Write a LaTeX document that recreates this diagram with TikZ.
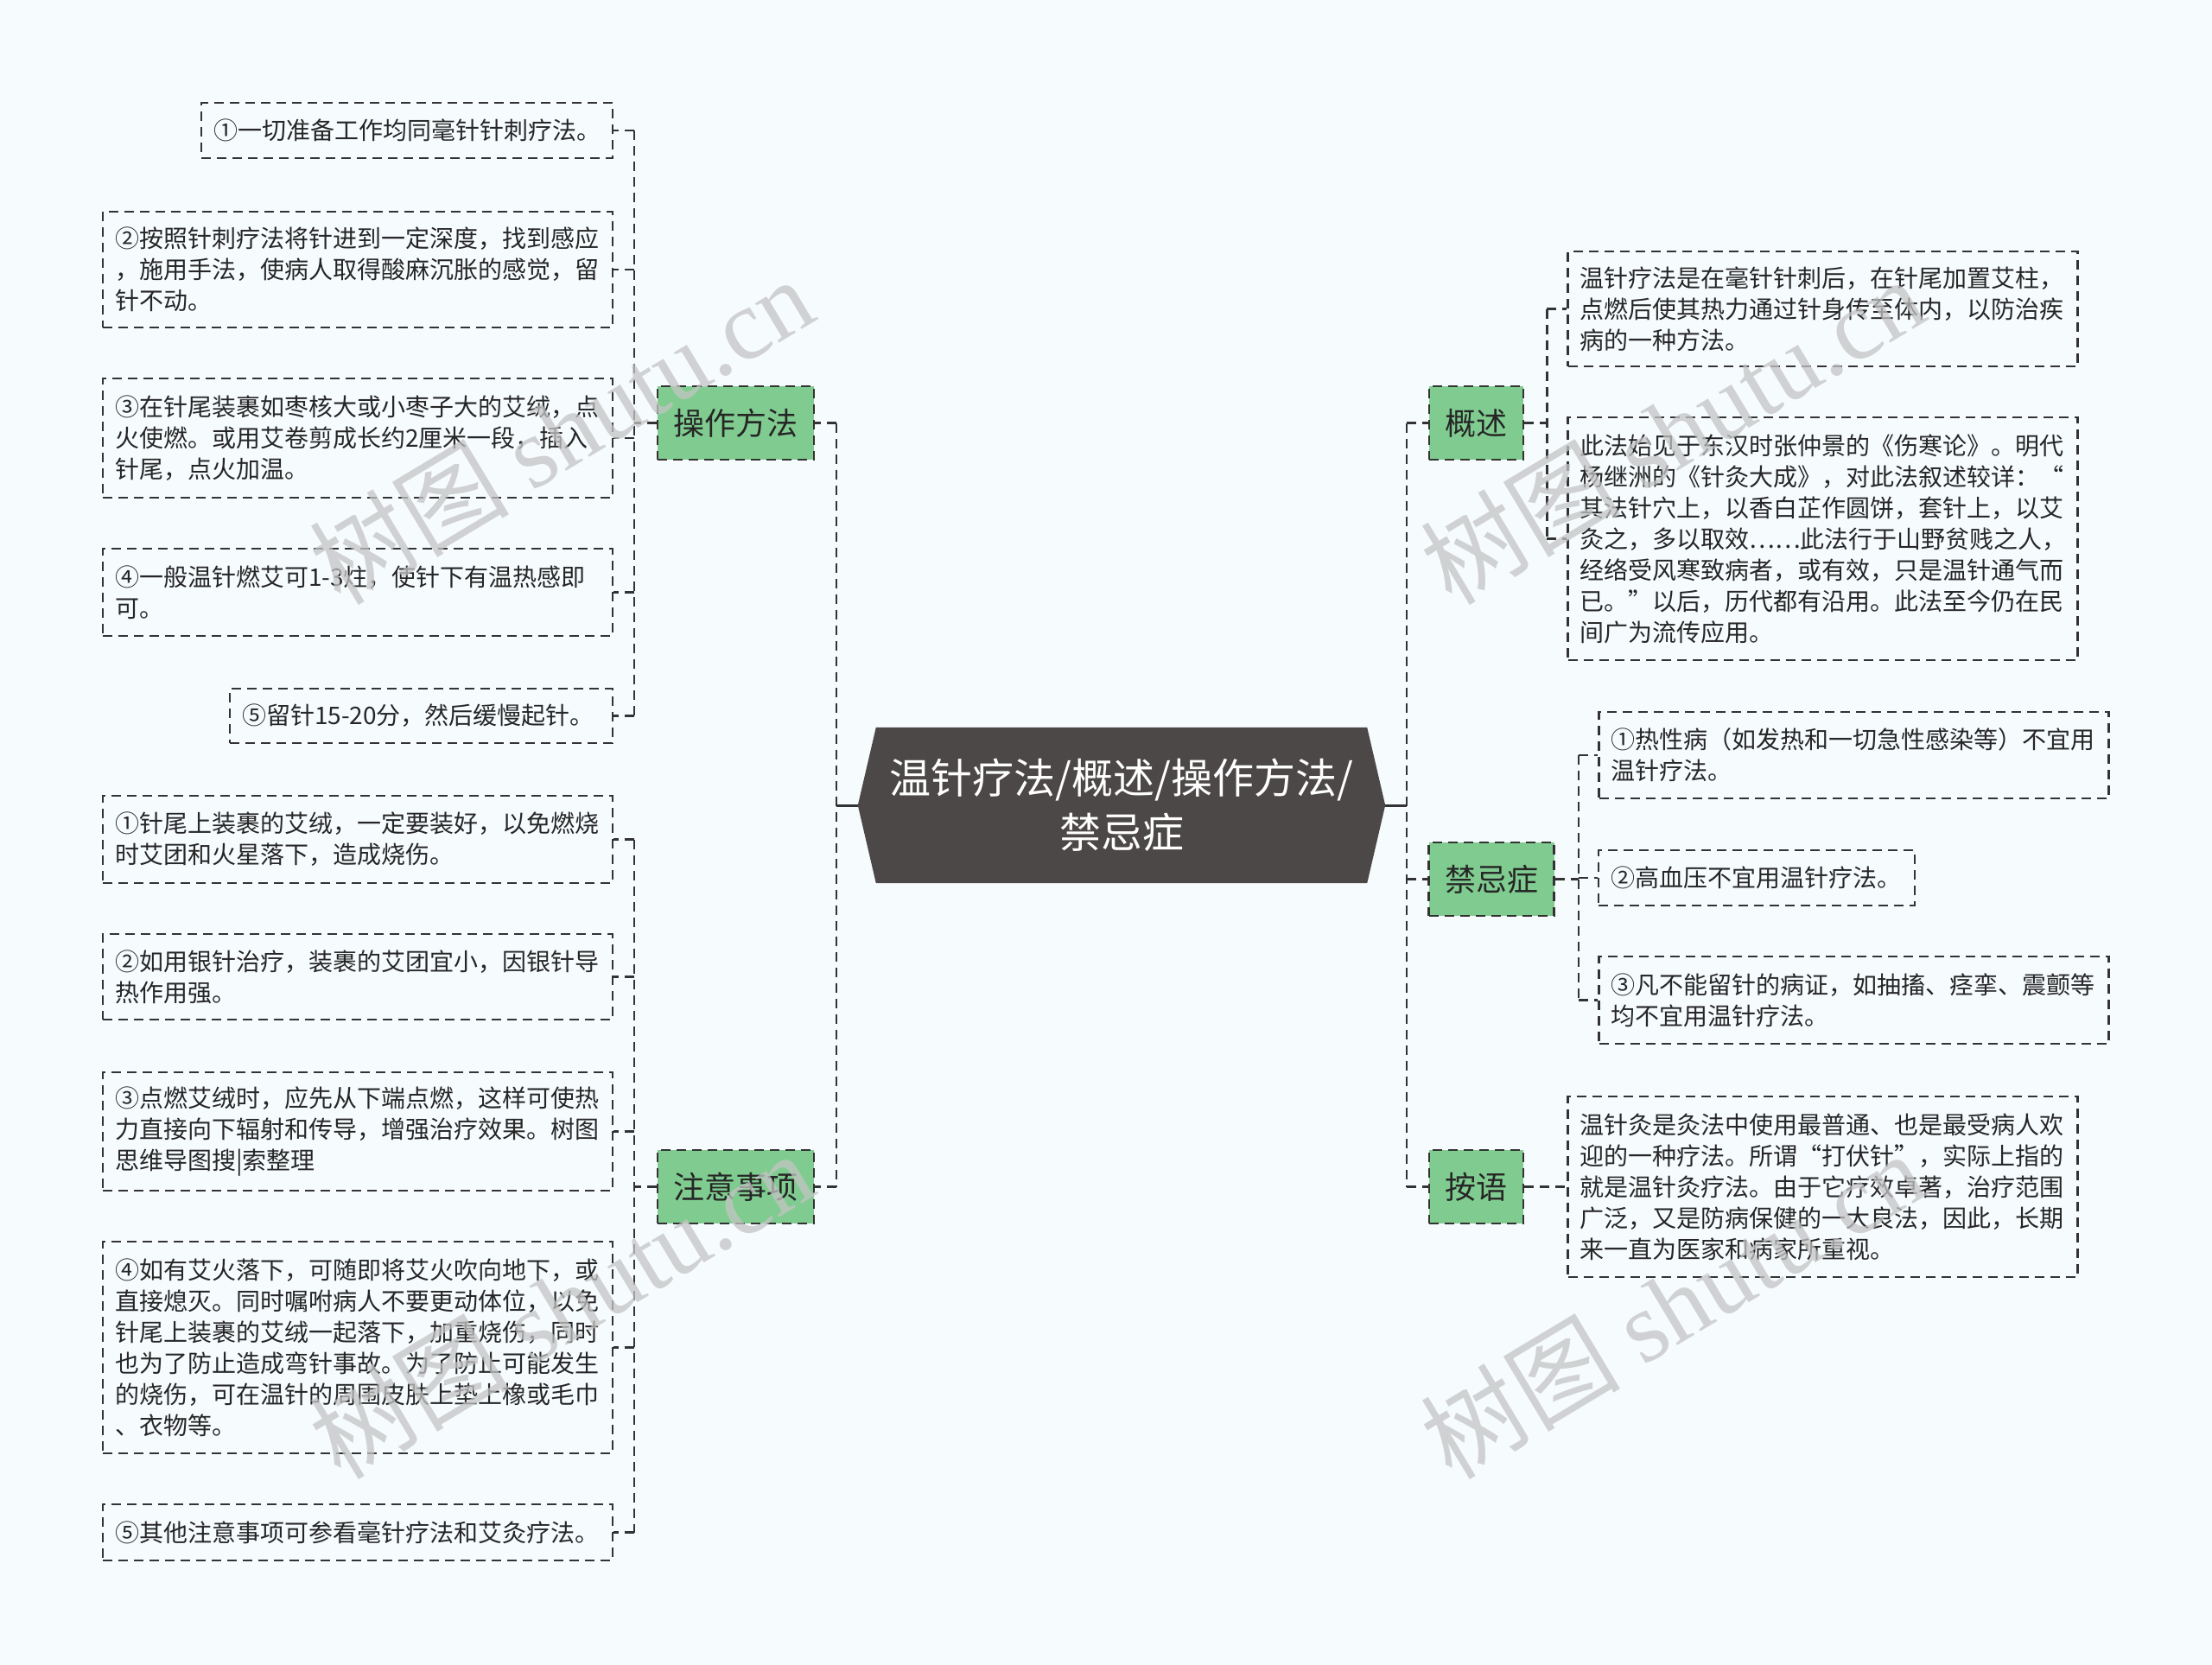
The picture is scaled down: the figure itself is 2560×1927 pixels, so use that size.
\documentclass[tikz,border=0pt]{standalone}
\usepackage{fontspec}
\setmainfont{Noto Sans CJK SC}
\newfontfamily\wmserif{Liberation Serif}
\usetikzlibrary{backgrounds}

\definecolor{pagebg}{HTML}{F6FBFE}
\definecolor{linec}{HTML}{333333}
\definecolor{topicfill}{HTML}{80CC90}
\definecolor{hubfill}{HTML}{4D4848}
\definecolor{wmgray}{HTML}{C4C4C4}

\tikzset{
  link/.style={draw=linec, line width=2.5pt, dash pattern=on 11pt off 7pt},
  stub/.style={draw=linec, line width=3pt},
  leaf/.style={draw=linec, line width=2.5pt, dash pattern=on 11pt off 7pt,
    text width=#1, align=left, inner xsep=14pt, inner ysep=0pt,
    text=black!85, font=\fontsize{28}{36}\selectfont},
  topic/.style={draw=linec, fill=topicfill, line width=2.5pt,
    dash pattern=on 11pt off 7pt, minimum height=85pt, inner xsep=18.5pt,
    text=black!85, font=\fontsize{36}{40}\selectfont},
  hub/.style={minimum width=568pt, minimum height=180pt, inner sep=0pt,
    align=center, text=white, font=\fontsize{48}{63}\selectfont},
  watermark/.style={text=wmgray, opacity=0.75, rotate=31,
    font=\fontsize{116}{116}\selectfont}
}

\begin{document}
\begin{tikzpicture}[x=1pt,y=-1pt]
  \useasboundingbox (0,0) rectangle (2560,1927);

  % centre
  \node[hub] (hub) at (1298,932) {温针疗法/概述/操作方法/\\禁忌症};

  % main topics
  \node[topic] (czff) at (851.5,489.5) {操作方法};
  \node[topic] (zysx) at (851.5,1373.5) {注意事项};
  \node[topic] (gs) at (1708.5,489.5) {概述};
  \node[topic] (jjz) at (1726,1017.5) {禁忌症};
  \node[topic] (ay) at (1708.5,1373.5) {按语};

  % 操作方法
  \node[leaf=448pt, minimum height=64pt] (cz1) at (471,151)
    {①一切准备工作均同毫针针刺疗法。};
  \node[leaf=562pt, minimum height=134pt] (cz2) at (414,312)
    {②按照针刺疗法将针进到一定深度，找到感应\\，施用手法，使病人取得酸麻沉胀的感觉，留\\针不动。};
  \node[leaf=562pt, minimum height=138pt] (cz3) at (414,507)
    {③在针尾装裹如枣核大或小枣子大的艾绒，点\\火使燃。或用艾卷剪成长约2厘米一段，插入\\针尾，点火加温。};
  \node[leaf=562pt, minimum height=101pt] (cz4) at (414,685.5)
    {④一般温针燃艾可1-3炷，使针下有温热感即\\可。};
  \node[leaf=415pt, minimum height=63pt] (cz5) at (487.5,828.5)
    {⑤留针15-20分，然后缓慢起针。};

  % 注意事项
  \node[leaf=562pt, minimum height=101pt] (zy1) at (414,971.5)
    {①针尾上装裹的艾绒，一定要装好，以免燃烧\\时艾团和火星落下，造成烧伤。};
  \node[leaf=562pt, minimum height=99pt] (zy2) at (414,1130.5)
    {②如用银针治疗，装裹的艾团宜小，因银针导\\热作用强。};
  \node[leaf=562pt, minimum height=137pt] (zy3) at (414,1309.5)
    {③点燃艾绒时，应先从下端点燃，这样可使热\\力直接向下辐射和传导，增强治疗效果。树图\\思维导图搜|索整理};
  \node[leaf=562pt, minimum height=245pt] (zy4) at (414,1559.5)
    {④如有艾火落下，可随即将艾火吹向地下，或\\直接熄灭。同时嘱咐病人不要更动体位，以免\\针尾上装裹的艾绒一起落下，加重烧伤，同时\\也为了防止造成弯针事故。为了防止可能发生\\的烧伤，可在温针的周围皮肤上垫上橡或毛巾\\、衣物等。};
  \node[leaf=562pt, minimum height=65pt] (zy5) at (414,1773.5)
    {⑤其他注意事项可参看毫针疗法和艾灸疗法。};

  % 概述
  \node[leaf=562pt, minimum height=133pt] (gs1) at (2109.5,357.5)
    {温针疗法是在毫针针刺后，在针尾加置艾柱，\\点燃后使其热力通过针身传至体内，以防治疾\\病的一种方法。};
  \node[leaf=562pt, minimum height=281pt] (gs2) at (2109.5,623.5)
    {此法始见于东汉时张仲景的《伤寒论》。明代\\杨继洲的《针灸大成》，对此法叙述较详：“\\其法针穴上，以香白芷作圆饼，套针上，以艾\\灸之，多以取效……此法行于山野贫贱之人，\\经络受风寒致病者，或有效，只是温针通气而\\已。”以后，历代都有沿用。此法至今仍在民\\间广为流传应用。};

  % 禁忌症
  \node[leaf=562pt, minimum height=100pt] (jj1) at (2145.5,874)
    {①热性病（如发热和一切急性感染等）不宜用\\温针疗法。};
  \node[leaf=338pt, minimum height=64pt] (jj2) at (2033,1016)
    {②高血压不宜用温针疗法。};
  \node[leaf=562pt, minimum height=101pt] (jj3) at (2145.5,1157.5)
    {③凡不能留针的病证，如抽搐、痉挛、震颤等\\均不宜用温针疗法。};

  % 按语
  \node[leaf=562pt, minimum height=209pt] (ay1) at (2109.5,1373.5)
    {温针灸是灸法中使用最普通、也是最受病人欢\\迎的一种疗法。所谓“打伏针”，实际上指的\\就是温针灸疗法。由于它疗效卓著，治疗范围\\广泛，又是防病保健的一大良法，因此，长期\\来一直为医家和病家所重视。};

  \begin{scope}[on background layer]
    \fill[pagebg] (0,0) rectangle (2560,1927);
    \fill[hubfill] ([xshift=-21pt]hub.west) -- (hub.north west) -- (hub.north east)
      -- ([xshift=21pt]hub.east) -- (hub.south east) -- (hub.south west) -- cycle;
  \end{scope}

  % trunks from the centre
  \coordinate (lj) at ([xshift=-46pt]hub.west);
  \coordinate (rj) at ([xshift=46pt]hub.east);
  \draw[stub] ([xshift=-21pt]hub.west) -- (lj);
  \draw[stub] ([xshift=21pt]hub.east) -- (rj);
  \draw[link] (lj |- czff.east) -- (lj |- zysx.east);
  \draw[link] (rj |- gs.west) -- (rj |- ay.west);
  \foreach \n in {czff,zysx}
    \draw[link] (lj |- \n.east) -- (\n.east);
  \foreach \n in {gs,jjz,ay}
    \draw[link] (rj |- \n.west) -- (\n.west);

  % branches
  \coordinate (czj) at ([xshift=-26pt]czff.west);
  \coordinate (zyj) at ([xshift=-26pt]zysx.west);
  \coordinate (gsj) at ([xshift=26pt]gs.east);
  \coordinate (jjj) at ([xshift=27pt]jjz.east);
  \draw[link] (czff.west) -- (czj);
  \draw[link] (zysx.west) -- (zyj);
  \draw[link] (gs.east) -- (gsj);
  \draw[link] (jjz.east) -- (jjj);
  \draw[link] (czj |- cz1.east) -- (czj |- cz5.east);
  \draw[link] (zyj |- zy1.east) -- (zyj |- zy5.east);
  \draw[link] (gsj |- gs1.west) -- (gsj |- gs2.west);
  \draw[link] (jjj |- jj1.west) -- (jjj |- jj3.west);
  \foreach \n in {cz1,cz2,cz3,cz4,cz5}
    \draw[link] (czj |- \n.east) -- (\n.east);
  \foreach \n in {zy1,zy2,zy3,zy4,zy5}
    \draw[link] (zyj |- \n.east) -- (\n.east);
  \foreach \n in {gs1,gs2}
    \draw[link] (gsj |- \n.west) -- (\n.west);
  \foreach \n in {jj1,jj2,jj3}
    \draw[link] (jjj |- \n.west) -- (\n.west);
  \draw[link] (ay.east) -- (ay1.west);

  % watermarks
  \node[watermark] (wm1) at (649,498) {树图 {\wmserif shutu.cn}};
  \node[watermark] (wm2) at (649,1510) {树图 {\wmserif shutu.cn}};
  \node[watermark] (wm3) at (1935,498) {树图 {\wmserif shutu.cn}};
  \node[watermark] (wm4) at (1935,1510) {树图 {\wmserif shutu.cn}};
\end{tikzpicture}
\end{document}
